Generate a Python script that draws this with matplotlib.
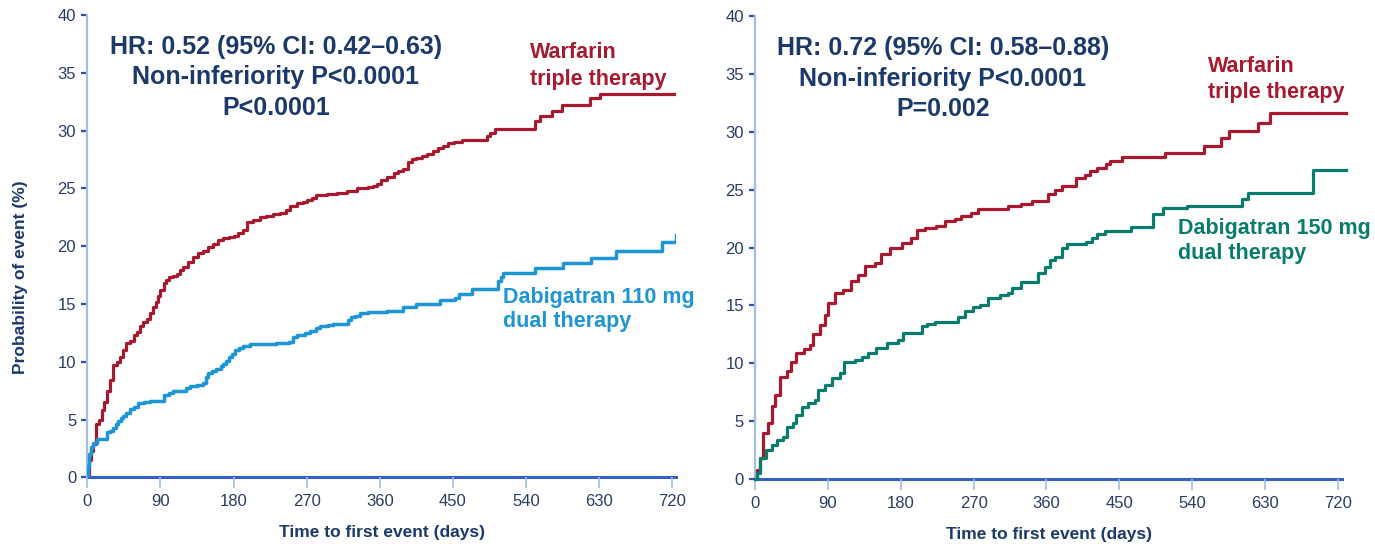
import matplotlib
matplotlib.use("Agg")
import matplotlib.pyplot as plt

plt.rcParams['font.family'] = ['Liberation Sans', 'DejaVu Sans']

# Left panel: warfarin triple vs dabigatran 110 mg dual
warf_l_days = [0, 2, 4, 7, 11, 15, 18, 21, 24, 28, 32, 36, 40, 44, 48, 52, 57, 61, 65, 69,
               73, 77, 81, 84, 87, 90, 94, 97, 100, 105, 110, 114, 118, 124, 130, 136, 143, 149,
               155, 161, 167, 174, 180, 186, 192, 196, 204, 212, 220, 229, 237, 245, 250, 258,
               265, 270, 276, 282, 295, 307, 320, 332, 345, 352, 356, 362, 369, 377, 383, 389,
               395, 400, 405, 412, 418, 425, 432, 438, 444, 451, 461, 492, 496, 502, 551, 557,
               572, 584, 619, 631, 725]
warf_l_pct = [0, 1.5, 2.3, 2.9, 4.6, 5.0, 5.8, 6.5, 7.5, 8.4, 9.7, 10.0, 10.4, 11.0, 11.6, 11.8,
              12.3, 12.6, 13.1, 13.4, 13.7, 14.2, 14.7, 15.2, 15.7, 16.2, 16.8, 17.1, 17.3, 17.4,
              17.6, 17.9, 18.2, 18.6, 19.1, 19.4, 19.6, 19.9, 20.2, 20.5, 20.7, 20.8, 20.9, 21.1,
              21.4, 22.1, 22.3, 22.5, 22.6, 22.8, 22.9, 23.1, 23.5, 23.7, 23.8, 24.0, 24.2, 24.4,
              24.5, 24.6, 24.8, 25.0, 25.1, 25.2, 25.4, 25.7, 26.0, 26.3, 26.5, 26.7, 27.3, 27.5,
              27.6, 27.8, 28.0, 28.2, 28.5, 28.7, 28.9, 29.0, 29.2, 29.5, 29.8, 30.1, 30.8, 31.3,
              31.7, 32.2, 32.8, 33.2, 33.2]

dabi110_days = [0, 1, 2.5, 5, 7.5, 11.5, 24, 28, 32, 35, 38, 41, 44, 48, 52.5, 57, 63, 70, 77,
                95, 100, 106, 122, 126, 135, 143, 146, 149, 154, 159, 164, 167, 171, 174, 178,
                182, 187, 192, 200, 204, 232, 248, 253, 258, 268, 274, 281, 286, 296, 303, 321,
                324, 330, 336, 345, 369, 389, 405, 434, 452, 457, 473, 506, 509, 512, 551, 585,
                620, 651, 707, 725]
dabi110_pct = [0, 1.0, 2.0, 2.6, 3.0, 3.3, 3.9, 4.0, 4.3, 4.6, 4.9, 5.1, 5.3, 5.6, 5.9, 6.1, 6.4,
               6.5, 6.6, 7.1, 7.3, 7.45, 7.7, 7.9, 8.0, 8.2, 8.7, 9.0, 9.2, 9.4, 9.6, 9.8, 10.1,
               10.4, 10.7, 11.0, 11.2, 11.4, 11.5, 11.56, 11.6, 11.7, 12.1, 12.3, 12.5, 12.7,
               12.9, 13.1, 13.2, 13.3, 13.6, 13.9, 14.0, 14.2, 14.3, 14.4, 14.7, 15.0, 15.3,
               15.5, 15.9, 16.3, 17.0, 17.3, 17.7, 18.1, 18.5, 19.0, 19.6, 20.4, 21.0]

# Right panel: warfarin triple vs dabigatran 150 mg dual
warf_r_days = [0, 2, 6, 10, 16, 21, 25, 31, 39, 45, 51, 60, 68, 72, 80, 86, 90, 99, 109, 119,
               127, 136, 148, 156, 167, 181, 193, 200, 210, 224, 235, 247, 255, 267, 276, 313,
               329, 342, 362, 370, 379, 397, 407, 414, 422, 434, 438, 453, 506, 554, 576, 586,
               621, 636, 730]
warf_r_pct = [0, 0.8, 1.8, 3.95, 4.8, 6.3, 7.3, 8.85, 9.3, 10.15, 10.9, 11.2, 11.6, 12.5, 13.3,
              14.2, 15.2, 16.1, 16.35, 17.1, 17.6, 18.4, 18.65, 19.4, 20.0, 20.4, 20.8, 21.5,
              21.7, 21.9, 22.25, 22.5, 22.75, 23.0, 23.3, 23.55, 23.8, 24.0, 24.6, 25.0, 25.3,
              26.0, 26.3, 26.6, 26.9, 27.2, 27.45, 27.8, 28.2, 28.75, 29.5, 30.05, 30.8, 31.6,
              31.6]

dabi150_days = [0, 2, 6, 14, 21, 27, 35, 39, 47, 51, 58, 66, 74, 78, 86, 95, 105, 110, 123, 132,
                140, 150, 163, 177, 183, 195, 206, 212, 222, 251, 259, 269, 278, 288, 302, 313,
                317, 329, 350, 358, 364, 370, 379, 385, 409, 416, 422, 432, 465, 491, 504, 533,
                601, 609, 689, 730]
dabi150_pct = [0, 0.5, 1.8, 2.5, 2.95, 3.4, 3.65, 4.5, 4.8, 5.5, 6.25, 6.55, 6.85, 7.7, 8.1,
               8.7, 9.15, 10.15, 10.3, 10.5, 10.9, 11.3, 11.75, 12.0, 12.6, 12.65, 13.2, 13.4,
               13.55, 14.0, 14.5, 14.9, 15.05, 15.6, 15.9, 16.1, 16.5, 17.0, 17.8, 18.3, 18.95,
               19.2, 19.95, 20.3, 20.5, 20.8, 21.15, 21.4, 21.75, 22.9, 23.4, 23.6, 24.2, 24.7,
               26.7, 26.7]

x_ticks = [0, 90, 180, 270, 360, 450, 540, 630, 720]
y_ticks = [0, 5, 10, 15, 20, 25, 30, 35, 40]

stats_left = "HR: 0.52 (95% CI: 0.42\u20130.63)\nNon-inferiority P<0.0001\nP<0.0001"
stats_right = "HR: 0.72 (95% CI: 0.58\u20130.88)\nNon-inferiority P<0.0001\nP=0.002"

RED = "#a6192e"
BLUE = "#1e96d4"
TEAL = "#0a7c6e"
NAVY = "#1b3a6b"
TICKTXT = "#2a3c64"
SPINE_LIGHT = "#a3bde8"
SPINE_DARK = "#3462c0"
YTICK = "#2a52ad"

fig = plt.figure(figsize=(13.75, 5.44), dpi=100)
ax1 = fig.add_axes([0.0635, 0.1226, 0.4284, 0.8498])
ax2 = fig.add_axes([0.5491, 0.1195, 0.4269, 0.851])


def style(ax):
    ax.set_xlim(0, 725)
    ax.set_ylim(0, 40)
    ax.set_xticks(x_ticks)
    ax.set_yticks(y_ticks)
    for s in ["top", "right"]:
        ax.spines[s].set_visible(False)
    ax.spines["left"].set_color(SPINE_LIGHT)
    ax.spines["left"].set_linewidth(1.6)
    ax.spines["bottom"].set_color(SPINE_DARK)
    ax.spines["bottom"].set_linewidth(2.2)
    ax.spines["bottom"].set_zorder(1)
    ax.tick_params(axis="y", direction="out", length=4, width=1.6, color=YTICK,
                   labelsize=12, labelcolor=TICKTXT, pad=4)
    ax.tick_params(axis="x", direction="out", length=8, width=1.2, color=SPINE_LIGHT,
                   labelsize=12, labelcolor=TICKTXT, pad=4)
    ax.set_xlabel("Time to first event (days)", fontsize=12.5, fontweight="bold", color=NAVY)
    ax.xaxis.set_label_coords(0.5, -0.103)


style(ax1)
style(ax2)

ax1.plot(warf_l_days, warf_l_pct, drawstyle="steps-post", color=RED, lw=2.3, zorder=3)
ax1.plot(dabi110_days, dabi110_pct, drawstyle="steps-post", color=BLUE, lw=2.5, zorder=3)
ax2.plot(warf_r_days, warf_r_pct, drawstyle="steps-post", color=RED, lw=2.3, zorder=3,
         clip_on=False)
ax2.plot(dabi150_days, dabi150_pct, drawstyle="steps-post", color=TEAL, lw=2.3, zorder=3,
         clip_on=False)

ax1.set_ylabel("Probability of event (%)", fontsize=12.5, fontweight="bold", color=NAVY)
ax1.yaxis.set_label_coords(-0.1, 0.433)

ax1.text(232, 34.6, stats_left, ha="center", va="center", fontsize=18, fontweight="bold",
         color=NAVY, linespacing=1.35)
ax2.text(232, 34.6, stats_right, ha="center", va="center", fontsize=18, fontweight="bold",
         color=NAVY, linespacing=1.35)

ax1.text(545, 35.6, "Warfarin\ntriple therapy", ha="left", va="center", fontsize=15.5,
         fontweight="bold", color=RED, linespacing=1.35)
ax2.text(559, 34.5, "Warfarin\ntriple therapy", ha="left", va="center", fontsize=15.5,
         fontweight="bold", color=RED, linespacing=1.28)
ax1.text(512, 14.5, "Dabigatran 110 mg\ndual therapy", ha="left", va="center", fontsize=15.5,
         fontweight="bold", color=BLUE, linespacing=1.2)
ax2.text(523, 20.6, "Dabigatran 150 mg\ndual therapy", ha="left", va="center", fontsize=15.5,
         fontweight="bold", color=TEAL, linespacing=1.25)

fig.savefig("out.png", dpi=100)
